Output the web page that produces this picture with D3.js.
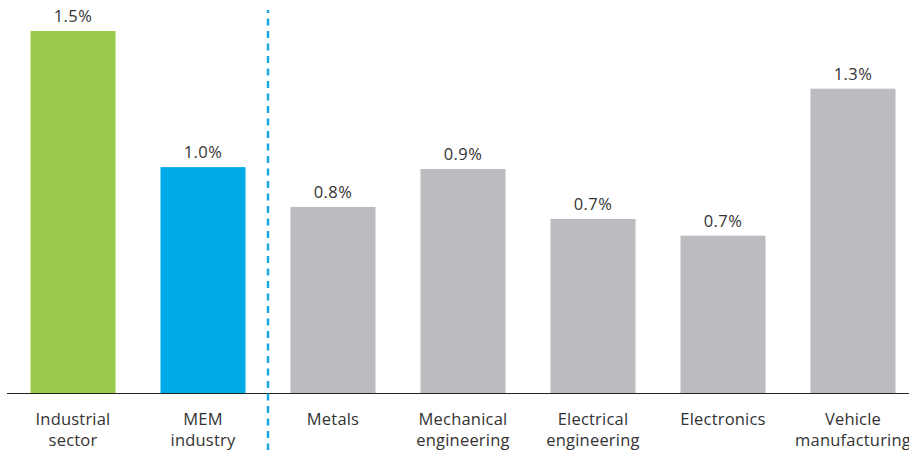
<!DOCTYPE html>
<html>
<head>
<meta charset="utf-8">
<script src="https://cdn.jsdelivr.net/npm/d3@7"></script>
<style>
  body { margin: 0; background: #fff; }
  svg { display: block; font-family: "Open Sans", sans-serif; }
</style>
</head>
<body>
<svg width="909" height="450"></svg>
<script>
// chart data
var categories = [["Industrial", "sector"], ["MEM", "industry"], ["Metals"], ["Mechanical", "engineering"], ["Electrical", "engineering"], ["Electronics"], ["Vehicle", "manufacturing"]];
var values = [1.5, 0.936, 0.771, 0.928, 0.721, 0.652, 1.261];
var valueLabels = ["1.5%", "1.0%", "0.8%", "0.9%", "0.7%", "0.7%", "1.3%"];
var barColors = ["#9aca4b", "#00aae6", "#bbbcc0", "#bbbcc0", "#bbbcc0", "#bbbcc0", "#bbbcc0"];

var svg = d3.select("svg"),
    width = +svg.attr("width"),
    height = +svg.attr("height");

var baseline = 393;

var x = d3.scaleBand()
    .domain(d3.range(values.length))
    .range([30.5, 895.5])
    .paddingInner(0.346)
    .paddingOuter(0);

var y = d3.scaleLinear()
    .domain([0, 1.5])
    .range([baseline, 31]);

// bars
svg.selectAll(".bar")
    .data(values)
    .enter().append("rect")
    .attr("class", "bar")
    .attr("x", function(d, i) { return x(i); })
    .attr("y", function(d) { return y(d); })
    .attr("width", x.bandwidth())
    .attr("height", function(d) { return baseline - y(d); })
    .style("fill", function(d, i) { return barColors[i]; });

// value labels
svg.selectAll(".value")
    .data(values)
    .enter().append("text")
    .attr("class", "value")
    .attr("x", function(d, i) { return x(i) + x.bandwidth() / 2; })
    .attr("y", function(d) { return y(d) - 9; })
    .attr("text-anchor", "middle")
    .style("font-size", "16.5px")
    .style("letter-spacing", "0.4px")
    .style("fill", "#333")
    .text(function(d, i) { return valueLabels[i]; });

// baseline
svg.append("line")
    .attr("x1", 7)
    .attr("x2", width)
    .attr("y1", baseline + 0.5)
    .attr("y2", baseline + 0.5)
    .style("stroke", "#222")
    .style("stroke-width", 1);

// separator between totals and sub-sectors
var sepX = (x(1) + x.bandwidth() + x(2)) / 2;
svg.append("line")
    .attr("x1", sepX)
    .attr("x2", sepX)
    .attr("y1", 10)
    .attr("y2", height)
    .style("stroke", "#1aa7e0")
    .style("stroke-width", 2.5)
    .style("stroke-dasharray", "7,5.5")
    .style("stroke-dashoffset", 4);

// category labels
var cat = svg.selectAll(".cat")
    .data(categories)
    .enter().append("text")
    .attr("class", "cat")
    .attr("text-anchor", "middle")
    .style("font-size", "16.5px")
    .style("letter-spacing", "0.2px")
    .style("fill", "#333");

cat.selectAll("tspan")
    .data(function(d, i) { return d.map(function(t) { return {t: t, i: i}; }); })
    .enter().append("tspan")
    .attr("x", function(d) { return x(d.i) + x.bandwidth() / 2; })
    .attr("y", function(d, j) { return baseline + 32 + j * 21; })
    .text(function(d) { return d.t; });
</script>
</body>
</html>
